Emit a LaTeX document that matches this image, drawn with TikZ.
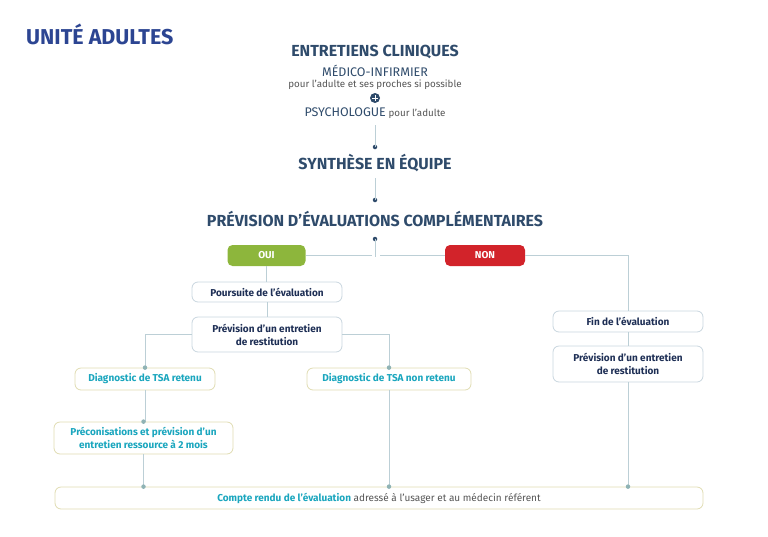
\documentclass[tikz,border=0pt]{standalone}
\usepackage{fontspec}
\setmainfont{Fira Sans}
\usetikzlibrary{positioning}
\definecolor{titleblue}{HTML}{2C4592}
\definecolor{slate}{HTML}{2F4B6B}
\definecolor{navy}{HTML}{1E2F55}
\definecolor{teal}{HTML}{1AA6BE}
\definecolor{ouig}{HTML}{8DB63C}
\definecolor{nonr}{HTML}{D2232A}
\definecolor{boxb}{HTML}{C9D6DF}
\definecolor{boxy}{HTML}{E0DCB2}
\definecolor{linec}{HTML}{BCCFD6}
\definecolor{dotc}{HTML}{8FB3B5}
\definecolor{greytext}{HTML}{555555}
\tikzset{
  heading/.style={font=\bfseries\fontsize{16}{18}\selectfont, text=slate, inner sep=0pt},
  wbox/.style={draw=boxb, line width=0.8pt, rounded corners=6pt, fill=white, align=center, text=navy, font=\bfseries\fontsize{10}{13}\selectfont, inner sep=0pt},
  ybox/.style={draw=boxy, line width=0.8pt, rounded corners=6pt, fill=white, align=center, text=teal, font=\bfseries\fontsize{10}{13}\selectfont, inner sep=0pt},
  choice/.style={rounded corners=5pt, text=white, font=\bfseries\fontsize{10}{11}\selectfont, inner sep=0pt, minimum width=78pt, minimum height=21pt},
  conn/.style={draw=linec, line width=0.7pt},
  ddot/.style={circle, fill=slate, inner sep=0pt, minimum size=4.5pt},
  ldot/.style={circle, fill=dotc, inner sep=0pt, minimum size=4.5pt},
}
\begin{document}
\begin{tikzpicture}[x=1pt,y=-1pt]
\useasboundingbox (0,0) rectangle (768,536);
% title
\node[anchor=west, inner sep=0pt, text=titleblue, font=\bfseries\fontsize{21.5}{24}\selectfont] (title) at (26,34) {UNITÉ ADULTES};
% top headings
\node[heading] (entr) at (375,52) {ENTRETIENS CLINIQUES};
\node[inner sep=0pt, text=slate, font=\fontsize{12.5}{14}\selectfont] (medico) at (375,71) {MÉDICO-INFIRMIER};
\node[inner sep=0pt, text=greytext, font=\fontsize{9.8}{11}\selectfont] (pour) at (375,85) {pour l'adulte et ses proches si possible};
\node[circle, fill=slate, inner sep=0pt, minimum size=10pt] (plus) at (375,98) {};
\draw[white, line width=1pt] ([xshift=-2.6pt]plus.center) -- ([xshift=2.6pt]plus.center) ([yshift=-2.6pt]plus.center) -- ([yshift=2.6pt]plus.center);
\node[inner sep=0pt] (psy) at (375,113) {\textcolor{slate}{\fontsize{12.5}{14}\selectfont PSYCHOLOGUE} \textcolor{greytext}{\fontsize{9.8}{11}\selectfont pour l'adulte}};
\node[heading] (synth) at (375,163) {SYNTHÈSE EN ÉQUIPE};
\node[heading] (prev) at (375,219) {PRÉVISION D’ÉVALUATIONS COMPLÉMENTAIRES};
% dark dots and lines
\node[ddot] (d1) at (375,147) {};
\node[ddot] (d2) at (375,200) {};
\node[ddot] (d3) at (375,239) {};
\coordinate (l1) at (375,125);
\coordinate (l2) at (375,178);
\draw[conn] (l1) -- (d1.center);
\draw[conn] (l2) -- (d2.center);
% choices
\node[choice, fill=ouig] (oui) at (266.5,255.5) {OUI};
\node[choice, fill=nonr, minimum width=80pt] (non) at (485,255.5) {NON};
\coordinate (jl) at (372,255.5);
\coordinate (jr) at (380,255.5);
\coordinate (jb) at (375,257);
\draw[conn] (d3.center) -- (jb);
\draw[conn] (oui.east) -- (jl);
\draw[conn] (jr) -- (non.west);
% left branch
\node[wbox, minimum width=150pt, minimum height=20pt] (pours) at (267,292) {Poursuite de l’évaluation};
\node[wbox, minimum width=150pt, minimum height=35pt] (prevL) at (267,334.5) {Prévision d’un entretien\\de restitution};
\node[ybox, minimum width=140pt, minimum height=22pt] (tsaR) at (145,379) {Diagnostic de TSA retenu};
\node[ybox, minimum width=164pt, minimum height=22pt] (tsaN) at (389,379) {Diagnostic de TSA non retenu};
\node[ybox, minimum width=179pt, minimum height=32pt] (preco) at (143.5,438) {Préconisations et prévision d’un\\entretien ressource à 2 mois};
% right branch
\node[wbox, minimum width=150pt, minimum height=21pt] (fin) at (628,321.5) {Fin de l’évaluation};
\node[wbox, minimum width=150pt, minimum height=36pt] (prevR) at (628,364) {Prévision d’un entretien\\de restitution};
% bottom
\node[ybox, minimum width=648pt, minimum height=22pt, font=\fontsize{10}{13}\selectfont] (cr) at (379,498) {\textbf{Compte rendu de l’évaluation} \textcolor{greytext}{adressé à l’usager et au médecin référent}};
% connectors
\draw[conn] (oui.south) -- (oui.south |- pours.north);
\draw[conn] (pours.south) -- (pours.south |- prevL.north);
\draw[conn] (prevL.west) -| (tsaR.north);
\draw[conn] (prevL.east) -| (tsaN.north);
\draw[conn] (tsaR.south) -- (tsaR.south |- preco.north);
\draw[conn] (preco.south) -- (preco.south |- cr.north);
\draw[conn] (tsaN.south) -- (tsaN.south |- cr.north);
\draw[conn] (non.east) -| (fin.north);
\draw[conn] (fin.south) -- (prevR.north);
\draw[conn] (prevR.south) -- (prevR.south |- cr.north);
% light dots
\node[ldot] at (tsaR.north) {};
\node[ldot] at (tsaN.north) {};
\node[ldot] at (preco.north) {};
\node[ldot] at (preco.south |- cr.north) {};
\node[ldot] at (tsaN.south |- cr.north) {};
\node[ldot] at (prevR.south |- cr.north) {};
\end{tikzpicture}
\end{document}
